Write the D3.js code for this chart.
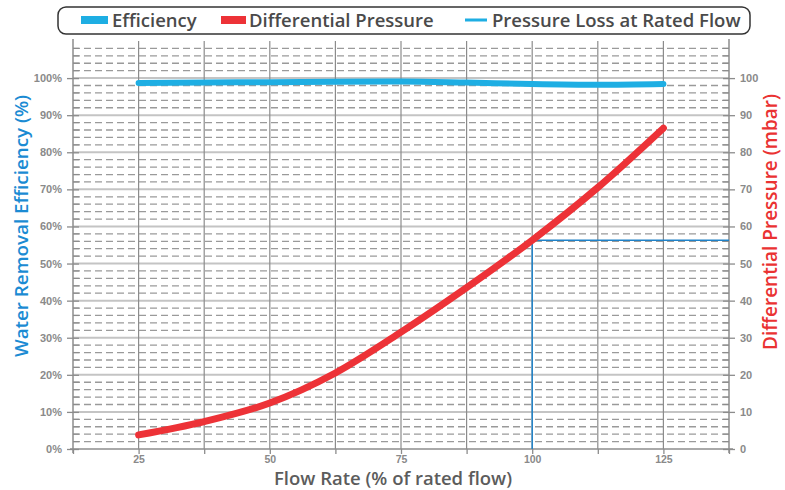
<!DOCTYPE html>
<html><head><meta charset="utf-8">
<script src="https://cdn.jsdelivr.net/npm/d3@7/dist/d3.min.js"></script>
<style>body{margin:0;background:#fff}svg{display:block}</style>
</head><body>
<svg id="c" width="785" height="490"></svg>
<script>
const flowRates = [25, 37.5, 50, 62.5, 75, 87.5, 100, 112.5, 125];
const efficiency = [98.7, 98.8, 98.9, 99.0, 99.1, 98.8, 98.4, 98.2, 98.4];
const pressure = [3.8, 7.4, 12.4, 20.5, 31.5, 43.5, 56.3, 70.5, 86.5];
const ratedFlow = 100;
const ratedPressure = 56.3;
const xTickLabels = [25, 50, 75, 100, 125];
const leftTickLabels = ["0%","10%","20%","30%","40%","50%","60%","70%","80%","90%","100%"];
const rightTickLabels = ["0","10","20","30","40","50","60","70","80","90","100"];
const legendItems = ["Efficiency", "Differential Pressure", "Pressure Loss at Rated Flow"];

const svg = d3.select("#c");
const L = 73, R = 729, T = 41, B = 449;
const x = d3.scaleLinear().domain([12.5, 137.5]).range([L, R]);
const y = d3.scaleLinear().domain([0, 110]).range([B, T]);
const y2 = d3.scaleLinear().domain([0, 110]).range([B, T]);

const grid = svg.append("g");
d3.range(2, 110, 2).filter(v => v % 10 !== 0).forEach(v => {
  grid.append("line").attr("x1", L).attr("x2", R).attr("y1", y(v)).attr("y2", y(v))
    .attr("stroke", "#9a9a9a").attr("stroke-width", 1.3).attr("stroke-dasharray", "7,4");
});
d3.range(10, 101, 10).forEach(v => {
  grid.append("line").attr("x1", L).attr("x2", R).attr("y1", y(v)).attr("y2", y(v))
    .attr("stroke", "#c4c4c4").attr("stroke-width", 2);
});
d3.range(25, 126, 12.5).forEach(v => {
  grid.append("line").attr("x1", x(v)).attr("x2", x(v)).attr("y1", T).attr("y2", B)
    .attr("stroke", "#8c8c8c").attr("stroke-width", 1.2);
});

const axCol = "#8c8c8c";
const lAxis = d3.axisLeft(y).tickValues(d3.range(0, 101, 10)).tickFormat((d, i) => leftTickLabels[i]).tickSize(6).tickPadding(5);
const gL = svg.append("g").attr("transform", `translate(${L},0)`).call(lAxis);
const rAxis = d3.axisRight(y2).tickValues(d3.range(0, 101, 10)).tickFormat((d, i) => rightTickLabels[i]).tickSize(6).tickPadding(5);
const gR = svg.append("g").attr("transform", `translate(${R},0)`).call(rAxis);
const bAxis = d3.axisBottom(x).tickValues(d3.range(12.5, 138, 12.5)).tickFormat(d => xTickLabels.includes(d) ? d : "").tickSize(5).tickPadding(2);
const gB = svg.append("g").attr("transform", `translate(0,${B})`).call(bAxis);
[gL, gR, gB].forEach(g => {
  g.select(".domain").remove();
  g.selectAll(".tick line").attr("stroke", axCol).attr("stroke-width", 1.3);
  g.selectAll("text").attr("fill", "#8a8a8a").style("font-family", "'Liberation Sans', Arial, sans-serif")
    .style("font-size", "11px").style("font-weight", "bold");
});
gB.selectAll("text").style("font-size", "10.5px");
gL.selectAll(".tick line").attr("x1", 6);
gR.selectAll(".tick line").attr("x1", -6);
d3.range(2, 110, 2).filter(v => v % 10 !== 0).forEach(v => {
  svg.append("line").attr("x1", L).attr("x2", L + 6).attr("y1", y(v)).attr("y2", y(v)).attr("stroke", axCol).attr("stroke-width", 1.2);
  svg.append("line").attr("x1", R - 6).attr("x2", R).attr("y1", y2(v)).attr("y2", y2(v)).attr("stroke", axCol).attr("stroke-width", 1.2);
});
svg.append("line").attr("x1", L).attr("x2", L).attr("y1", T - 2).attr("y2", B + 4).attr("stroke", axCol).attr("stroke-width", 1.5);
svg.append("line").attr("x1", R).attr("x2", R).attr("y1", T - 2).attr("y2", B + 4).attr("stroke", axCol).attr("stroke-width", 1.5);
svg.append("line").attr("x1", L - 3).attr("x2", R + 4).attr("y1", B).attr("y2", B).attr("stroke", axCol).attr("stroke-width", 1.5);

svg.append("path")
  .attr("d", `M${x(ratedFlow)},${y2(0)}V${y2(ratedPressure)}H${R}`)
  .attr("fill", "none").attr("stroke", "#1f82c8").attr("stroke-width", 1.5);

const effLine = d3.line().x((d, i) => x(flowRates[i])).y(d => y(d)).curve(d3.curveMonotoneX);
svg.append("path").datum(efficiency).attr("d", effLine)
  .attr("fill", "none").attr("stroke", "#1eaee3").attr("stroke-width", 6).attr("stroke-linecap", "round");
const pLine = d3.line().x((d, i) => x(flowRates[i])).y(d => y2(d)).curve(d3.curveMonotoneX);
svg.append("path").datum(pressure).attr("d", pLine)
  .attr("fill", "none").attr("stroke", "#ed3237").attr("stroke-width", 7).attr("stroke-linecap", "round");

const tf = "'Open Sans', 'Noto Sans', sans-serif";
svg.append("text").attr("transform", `translate(28,226) rotate(-90)`).attr("text-anchor", "middle")
  .style("font-family", tf).style("font-weight", 600).style("font-size", "18.8px").attr("fill", "#1b8bd3")
  .text("Water Removal Efficiency (%)");
svg.append("text").attr("transform", `translate(777,222) rotate(-90)`).attr("text-anchor", "middle")
  .style("font-family", tf).style("font-weight", 600).style("font-size", "19px").attr("fill", "#ea3232")
  .text("Differential Pressure (mbar)");
svg.append("text").attr("x", 393).attr("y", 485).attr("text-anchor", "middle")
  .style("font-family", tf).style("font-weight", 600).style("font-size", "18.5px").attr("fill", "#5c5c5c")
  .text("Flow Rate (% of rated flow)");

const lg = svg.append("g");
lg.append("rect").attr("x", 58).attr("y", 7).attr("width", 692).attr("height", 27).attr("rx", 8)
  .attr("fill", "#fff").attr("stroke", "#333").attr("stroke-width", 1.5);
const lgStyle = t => t.style("font-family", tf).style("font-weight", 600).style("font-size", "18.5px").attr("fill", "#4a4a4a");
lg.append("rect").attr("x", 81).attr("y", 16).attr("width", 27).attr("height", 8).attr("fill", "#1eaee3");
lg.append("text").attr("x", 112).attr("y", 27).text(legendItems[0]).call(lgStyle);
lg.append("rect").attr("x", 221).attr("y", 16).attr("width", 25).attr("height", 8).attr("fill", "#ed3237");
lg.append("text").attr("x", 249).attr("y", 27).text(legendItems[1]).call(lgStyle);
lg.append("rect").attr("x", 465).attr("y", 18.5).attr("width", 22).attr("height", 3).attr("fill", "#1eaee3");
lg.append("text").attr("x", 492).attr("y", 27).text(legendItems[2]).call(lgStyle);
</script>
</body></html>
